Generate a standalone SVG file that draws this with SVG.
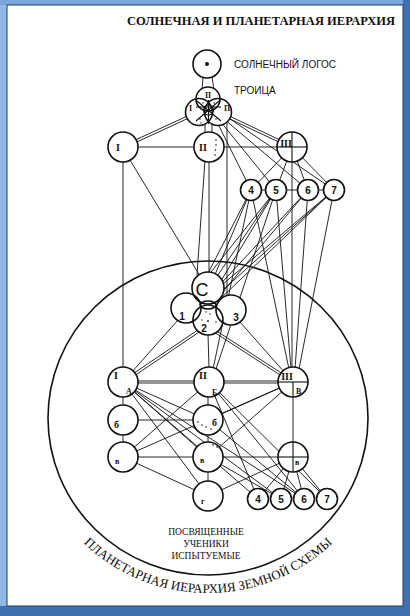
<svg xmlns="http://www.w3.org/2000/svg" width="410" height="616" viewBox="0 0 410 616">
<defs>
<style>
.ln{stroke:#111;stroke-width:0.9;fill:none}
.nd{fill:#fff;stroke:#111;stroke-width:1.6}
.ol{fill:none;stroke:#111;stroke-width:1.6}
.wf{fill:#fff;stroke:none}
.dv{stroke:#111;stroke-width:1.1;fill:none}
.rn{font-family:"Liberation Serif","Times New Roman",serif;font-weight:bold;font-size:10px;fill:#111}
.sm{font-family:"Liberation Serif","Times New Roman",serif;font-weight:bold;font-size:8px;fill:#111}
.nm{font-family:"Liberation Sans",Arial,sans-serif;font-weight:bold;font-size:10px;fill:#111;text-anchor:middle}
.lb{font-family:"Liberation Sans",Arial,sans-serif;font-size:10px;fill:#111}
.sr{font-family:"Liberation Serif","Times New Roman",serif;font-size:9.5px;fill:#111;text-anchor:middle}
.dot{fill:#111}
</style>
<path id="arcText" d="M 30,418 A 178,175 0 0 0 386,418"/>
</defs>

<g id="frame">
<rect x="0" y="0" width="410" height="616" fill="#5d8fcc"/>
<rect x="0" y="0" width="7" height="616" fill="#8fb8e6"/>
<rect x="0" y="0" width="410" height="5" fill="#7aa6dc"/>
<rect x="403" y="0" width="7" height="616" fill="#3f70b0"/>
<rect x="0" y="606" width="410" height="10" fill="#3f70b0"/>
<rect x="7" y="5" width="396" height="601" fill="#ffffff" stroke="#1c3d6e" stroke-width="1"/>
</g>

<text x="127" y="25" font-family="'Liberation Serif','Times New Roman',serif" font-weight="bold" font-size="12.5" textLength="268" lengthAdjust="spacingAndGlyphs" fill="#111">СОЛНЕЧНАЯ И ПЛАНЕТАРНАЯ ИЕРАРХИЯ</text>
<text class="lb" x="234" y="68">СОЛНЕЧНЫЙ ЛОГОС</text>
<text class="lb" x="234" y="94">ТРОИЦА</text>

<g id="bigcircle">
<ellipse cx="208" cy="418" rx="160" ry="157" fill="none" stroke="#111" stroke-width="1.6"/>
<text font-family="'Liberation Serif','Times New Roman',serif" font-size="13" fill="#111"><textPath href="#arcText" startOffset="50%" text-anchor="middle">ПЛАНЕТАРНАЯ ИЕРАРХИЯ ЗЕМНОЙ СХЕМЫ</textPath></text>
<text class="sr" x="206" y="535">ПОСВЯЩЕННЫЕ</text>
<text class="sr" x="206" y="547">УЧЕНИКИ</text>
<text class="sr" x="206" y="559">ИСПЫТУЕМЫЕ</text>
</g>

<g id="connectors" class="ln">
<line x1="203" y1="77" x2="202" y2="90"/>
<line x1="212" y1="77" x2="214" y2="90"/>
<line x1="199.5" y1="113.1" x2="123.5" y2="148.1"/>
<line x1="198.5" y1="110.9" x2="122.5" y2="145.9"/>
<line x1="217.5" y1="113.1" x2="291.5" y2="148.1"/>
<line x1="218.5" y1="110.9" x2="292.5" y2="145.9"/>
<line x1="205" y1="122" x2="205" y2="134"/>
<line x1="212" y1="122" x2="212" y2="134"/>
<line x1="227" y1="118" x2="227" y2="297"/>
<line x1="214" y1="116" x2="251" y2="190"/>
<line x1="216" y1="116" x2="276" y2="190"/>
<line x1="218" y1="114" x2="308" y2="190"/>
<line x1="220" y1="112" x2="334" y2="190"/>
<line x1="138" y1="147" x2="194" y2="147"/>
<line x1="224" y1="147" x2="278" y2="147"/>
<line x1="123" y1="160" x2="123" y2="368"/>
<line x1="130" y1="160" x2="200" y2="276"/>
<line x1="205" y1="160" x2="197" y2="275"/>
<line x1="209" y1="160" x2="209" y2="273"/>
<line x1="292" y1="160" x2="292" y2="368"/>
<line x1="292" y1="147" x2="251" y2="190"/>
<line x1="292" y1="147" x2="276" y2="190"/>
<line x1="292" y1="147" x2="308" y2="190"/>
<line x1="292" y1="147" x2="334" y2="190"/>
<line x1="261" y1="190" x2="266" y2="190"/>
<line x1="286" y1="190" x2="298" y2="190"/>
<line x1="318" y1="190" x2="324" y2="190"/>
<line x1="251" y1="190" x2="204" y2="281"/>
<line x1="251" y1="190" x2="211" y2="284"/>
<line x1="251" y1="190" x2="213" y2="369"/>
<line x1="251" y1="190" x2="289" y2="369"/>
<line x1="276" y1="190" x2="200" y2="286"/>
<line x1="276" y1="190" x2="207" y2="291"/>
<line x1="276" y1="190" x2="213" y2="294"/>
<line x1="276" y1="190" x2="216" y2="369"/>
<line x1="276" y1="190" x2="291" y2="369"/>
<line x1="308" y1="190" x2="214" y2="291"/>
<line x1="308" y1="190" x2="216" y2="300"/>
<line x1="308" y1="190" x2="295" y2="369"/>
<line x1="334" y1="190" x2="210" y2="295"/>
<line x1="334" y1="190" x2="214" y2="298"/>
<line x1="334" y1="190" x2="218" y2="301"/>
<line x1="334" y1="190" x2="299" y2="369"/>
<line x1="178" y1="320" x2="123" y2="382"/>
<line x1="200.7" y1="331" x2="123.7" y2="383"/>
<line x1="199.3" y1="329" x2="122.3" y2="381"/>
<line x1="208" y1="334" x2="209" y2="368"/>
<line x1="215.4" y1="333" x2="292.4" y2="383"/>
<line x1="216.6" y1="331" x2="293.6" y2="381"/>
<line x1="240" y1="322" x2="293" y2="382"/>
<line x1="137" y1="381" x2="195" y2="381"/>
<line x1="137" y1="383" x2="195" y2="383"/>
<line x1="223" y1="381" x2="279" y2="381"/>
<line x1="223" y1="383" x2="279" y2="383"/>
<line x1="123" y1="396" x2="123" y2="443"/>
<line x1="208" y1="396" x2="208" y2="482"/>
<line x1="293" y1="396" x2="293" y2="443"/>
<line x1="137" y1="420" x2="194" y2="420"/>
<line x1="137" y1="457" x2="194" y2="457"/>
<line x1="222" y1="457" x2="279" y2="457"/>
<line x1="123" y1="382" x2="208" y2="420"/>
<line x1="123" y1="382" x2="208" y2="457"/>
<line x1="123" y1="382" x2="208" y2="496"/>
<line x1="123" y1="382" x2="258" y2="499"/>
<line x1="123" y1="382" x2="281" y2="499"/>
<line x1="123" y1="382" x2="304" y2="499"/>
<line x1="209" y1="382" x2="123" y2="457"/>
<line x1="209" y1="382" x2="258" y2="499"/>
<line x1="209" y1="382" x2="304" y2="499"/>
<line x1="209" y1="382" x2="327" y2="499"/>
<line x1="293" y1="382" x2="208" y2="420"/>
<line x1="293" y1="382" x2="208" y2="457"/>
<line x1="293" y1="382" x2="123" y2="457"/>
<line x1="208" y1="420" x2="304" y2="499"/>
<line x1="208" y1="457" x2="281" y2="499"/>
<line x1="123" y1="457" x2="208" y2="496"/>
<line x1="208" y1="496" x2="293" y2="457"/>
<line x1="293" y1="457" x2="258" y2="499"/>
<line x1="293" y1="457" x2="281" y2="499"/>
<line x1="293" y1="457" x2="304" y2="499"/>
<line x1="293" y1="457" x2="327" y2="499"/>
</g>

<g id="logos">
<circle class="nd" cx="207" cy="64" r="14"/>
<circle class="dot" cx="207" cy="64" r="2"/>
</g>

<g id="trinity">
<circle class="wf" cx="208" cy="99" r="12"/>
<circle class="wf" cx="199" cy="112" r="13.5"/>
<circle class="wf" cx="218" cy="112" r="13.5"/>
<circle class="ol" cx="208" cy="99" r="12"/>
<circle class="ol" cx="199" cy="112" r="13.5"/>
<circle class="ol" cx="218" cy="112" r="13.5"/>
<circle class="dv" cx="208.5" cy="110" r="5"/>
<line class="dv" x1="197" y1="101" x2="221" y2="121"/>
<line class="dv" x1="219" y1="101" x2="196" y2="121"/>
<line class="dv" x1="196" y1="107" x2="221" y2="107"/>
<line class="dv" x1="208.5" y1="100" x2="208.5" y2="124"/>
<text class="sm" x="208" y="98" text-anchor="middle">II</text>
<text class="sm" x="189" y="111">I</text>
<text class="sm" x="224" y="111">П</text>
<circle class="dot" cx="200" cy="119" r="0.7"/>
<circle class="dot" cx="201" cy="123" r="0.7"/>
<circle class="dot" cx="216" cy="119" r="0.7"/>
<circle class="dot" cx="203" cy="103" r="0.7"/>
<circle class="dot" cx="214" cy="103" r="0.7"/>
</g>

<g id="I1"><circle class="nd" cx="123" cy="147" r="15"/><text class="rn" x="116" y="151">I</text></g>
<g id="II1"><circle class="nd" cx="209" cy="147" r="15"/><text class="rn" x="203" y="151" text-anchor="middle">II</text>
<circle class="dot" cx="216" cy="140" r="0.8"/><circle class="dot" cx="216" cy="145" r="0.8"/><circle class="dot" cx="215.5" cy="150" r="0.8"/><circle class="dot" cx="215" cy="155" r="0.8"/></g>
<g id="III1"><circle class="nd" cx="292" cy="147" r="15"/>
<line class="dv" x1="277" y1="147" x2="307" y2="147"/><line class="dv" x1="292" y1="132" x2="292" y2="162"/>
<text class="rn" x="286" y="147" text-anchor="middle">III</text></g>

<g id="n4"><circle class="nd" cx="251" cy="190" r="10.5"/><text class="nm" x="251" y="194">4</text></g>
<g id="n5"><circle class="nd" cx="276" cy="190" r="10.5"/><text class="nm" x="276" y="194">5</text></g>
<g id="n6"><circle class="nd" cx="308" cy="190" r="10.5"/><text class="nm" x="308" y="194">6</text></g>
<g id="n7"><circle class="nd" cx="334" cy="190" r="10.5"/><text class="nm" x="334" y="194">7</text></g>

<g id="cluster">
<circle class="wf" cx="208" cy="288" r="16"/>
<circle class="wf" cx="186" cy="308" r="15"/>
<circle class="wf" cx="231" cy="310" r="15"/>
<circle class="wf" cx="208" cy="320" r="15"/>
<circle class="ol" cx="208" cy="288" r="16"/>
<circle class="ol" cx="186" cy="308" r="15"/>
<circle class="ol" cx="231" cy="310" r="15"/>
<circle class="ol" cx="208" cy="320" r="15"/>
<ellipse class="ol" cx="208" cy="305" rx="8" ry="4"/>
<text x="202" y="296" font-family="'Liberation Sans',Arial,sans-serif" font-size="18" fill="#111" text-anchor="middle">С</text>
<text class="nm" x="182" y="320">1</text>
<text class="nm" x="204" y="332">2</text>
<text class="nm" x="236" y="321">3</text>
<circle class="dot" cx="206" cy="312" r="0.7"/><circle class="dot" cx="210" cy="314" r="0.7"/><circle class="dot" cx="202" cy="320" r="0.7"/><circle class="dot" cx="208" cy="321" r="0.9"/><circle class="dot" cx="216" cy="322" r="0.7"/>
</g>

<g id="A"><circle class="nd" cx="123" cy="382" r="15"/><text class="rn" x="114" y="379">I</text><text class="sm" x="126" y="394">А</text></g>
<g id="B"><circle class="nd" cx="209" cy="382" r="15"/><text class="rn" x="203" y="379" text-anchor="middle">II</text><text class="sm" x="212" y="395">Б</text></g>
<g id="V"><circle class="nd" cx="293" cy="382" r="15"/>
<line class="dv" x1="278" y1="382" x2="308" y2="382"/><line class="dv" x1="293" y1="382" x2="293" y2="397"/>
<text class="rn" x="287" y="380" text-anchor="middle">III</text><text class="sm" x="296" y="394">В</text></g>

<g id="b1"><circle class="nd" cx="123" cy="420" r="15"/><text class="rn" x="114" y="428">б</text></g>
<g id="b2"><circle class="nd" cx="208" cy="420" r="15"/><text class="rn" x="212" y="426">б</text>
<circle class="dot" cx="198" cy="422" r="0.8"/><circle class="dot" cx="202" cy="425" r="0.8"/><circle class="dot" cx="206" cy="427" r="0.8"/><circle class="dot" cx="211" cy="429" r="0.8"/></g>

<g id="v1"><circle class="nd" cx="123" cy="457" r="15"/><text class="sm" x="115" y="464">в</text></g>
<g id="v2"><circle class="nd" cx="208" cy="457" r="15"/><text class="sm" x="200" y="463">в</text>
<circle class="dot" cx="213" cy="445" r="0.8"/><circle class="dot" cx="217" cy="447" r="0.8"/></g>
<g id="v3"><circle class="nd" cx="293" cy="457" r="15"/>
<line class="dv" x1="278" y1="457" x2="308" y2="457"/><line class="dv" x1="293" y1="442" x2="293" y2="472"/>
<text class="sm" x="295" y="465">в</text></g>

<g id="g"><circle class="nd" cx="208" cy="496" r="15"/><text class="sm" x="201" y="504">г</text></g>

<g id="m4"><circle class="nd" cx="258" cy="499" r="10.5"/><text class="nm" x="258" y="503">4</text></g>
<g id="m5"><circle class="nd" cx="281" cy="499" r="10.5"/><text class="nm" x="281" y="503">5</text></g>
<g id="m6"><circle class="nd" cx="304" cy="499" r="10.5"/><text class="nm" x="304" y="503">6</text></g>
<g id="m7"><circle class="nd" cx="327" cy="499" r="10.5"/><text class="nm" x="327" y="503">7</text></g>
</svg>
